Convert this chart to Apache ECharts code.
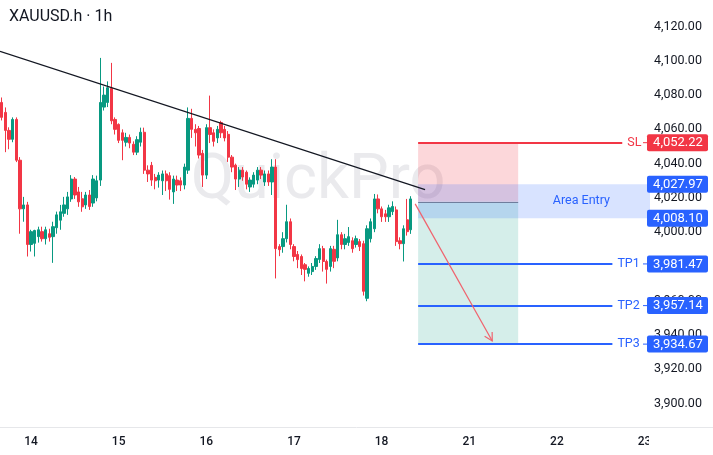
<!DOCTYPE html>
<html><head><meta charset="utf-8">
<script src="https://cdn.jsdelivr.net/npm/echarts@6/dist/echarts.min.js"></script>
<style>html,body{margin:0;padding:0;background:#fff}#c{width:713px;height:455px}</style>
</head><body><div id="c"></div>
<script>
// ---- data ----
const dayLabels = ['13','14','15','16','17','18','21','22','23'];
const firstHour = 16;          // first slot is day 13, 16:00
const totalSlots = 178;        // hourly slots incl. empty future area

const opens  = [4075.7,4069.9,4059.4,4054.2,4065.8,4042.0,4013.6,4015.9,3992.8,3993.5,3997.4,4000.3,3996.2,3999.1,3997.4,4002.6,4007.0,4011.0,4013.6,4019.4,4031.0,4023.5,4019.5,4015.9,4021.7,4017.0,4020.0,4030.4,4073.0,4075.7,4084.0,4065.8,4062.9,4058.0,4052.5,4055.3,4051.3,4046.7,4052.5,4058.3,4036.2,4039.0,4032.0,4030.4,4030.0,4034.0,4033.0,4023.5,4030.4,4030.0,4027.5,4036.2,4066.4,4060.0,4060.5,4046.0,4033.3,4061.0,4058.0,4055.0,4064.0,4060.0,4057.1,4043.8,4039.1,4031.0,4036.2,4035.0,4026.4,4028.0,4030.4,4036.2,4029.3,4034.0,4029.3,4038.0,3991.6,3991.6,3996.2,4006.1,3991.6,3987.0,3985.8,3981.0,3976.0,3977.0,3980.0,3984.1,3990.4,3982.9,3980.0,3990.0,3985.0,3998.5,3992.8,3994.0,3995.0,3992.8,3994.5,3993.3,3961.4,3996.2,4002.0,4019.4,4013.6,4010.7,4009.0,4012.0,4013.0,3995.0,3993.3,4007.2,4001.4];
const closes = [4067.0,4059.4,4054.2,4065.8,4042.0,4013.6,4015.9,3992.8,4000.3,4001.0,4001.4,3996.2,4001.4,3997.0,4003.2,4010.1,4011.9,4015.9,4020.6,4031.0,4021.7,4017.7,4014.8,4021.7,4015.0,4031.0,4030.0,4075.7,4080.0,4084.3,4065.0,4060.0,4053.6,4053.6,4055.3,4052.0,4046.7,4054.0,4058.3,4036.2,4034.0,4030.4,4030.0,4033.3,4034.0,4030.0,4025.0,4031.0,4027.5,4027.5,4038.0,4066.4,4060.0,4058.0,4045.0,4033.3,4061.0,4057.0,4053.0,4060.0,4058.0,4055.0,4043.8,4038.0,4031.0,4036.2,4032.2,4028.0,4030.4,4033.3,4036.2,4033.3,4034.0,4029.3,4038.0,3990.4,3989.8,3996.2,4006.1,3992.8,3985.8,3984.0,3978.8,3978.3,3978.8,3980.0,3984.6,3990.4,3982.9,3978.3,3990.4,3983.0,3998.5,3992.8,3996.2,3997.4,3990.4,3996.2,3991.6,3965.5,4002.0,4006.1,4019.4,4013.6,4009.0,4009.0,4014.2,4015.0,3994.5,3993.3,4002.0,4000.3,4019.4];
const lows   = [4065.2,4046.7,4048.4,4052.5,4040.9,3999.1,4006.1,3985.8,3988.7,3985.8,3993.9,3994.5,3992.8,3994.5,3982.1,3999.1,4001.4,4009.0,4010.1,4017.7,4019.4,4014.8,4011.9,4013.6,4013.0,4014.8,4018.0,4027.0,4071.0,4073.0,4063.0,4057.0,4052.0,4042.0,4050.0,4049.0,4045.0,4045.0,4050.0,4034.0,4029.3,4027.0,4025.0,4026.0,4021.7,4024.0,4019.0,4016.5,4024.0,4024.0,4025.0,4034.0,4055.0,4050.0,4043.0,4026.4,4031.0,4052.0,4050.0,4052.0,4055.0,4053.0,4041.0,4035.0,4024.6,4026.4,4030.0,4025.0,4023.5,4026.0,4028.0,4031.0,4027.0,4027.0,4021.7,3973.0,3986.0,3988.0,3994.0,3990.0,3983.0,3979.0,3975.0,3971.3,3974.0,3975.0,3978.0,3982.0,3977.0,3970.0,3977.0,3979.0,3983.0,3990.0,3990.0,3992.0,3988.0,3991.0,3989.0,3963.0,3959.7,3994.0,4000.0,4011.0,4006.0,4006.0,4006.0,4010.0,3992.0,3990.0,3982.9,3998.0,3999.0];
const highs  = [4078.6,4072.8,4061.2,4067.0,4067.0,4043.8,4020.6,4017.7,4001.4,4001.4,4003.2,4003.2,4003.2,4002.0,4006.1,4012.0,4015.9,4020.6,4023.5,4033.3,4032.2,4026.4,4023.5,4023.5,4024.6,4033.3,4033.0,4101.7,4085.0,4088.0,4098.8,4067.0,4063.5,4060.0,4058.0,4057.0,4053.0,4056.0,4061.0,4061.0,4039.0,4041.0,4034.0,4035.0,4036.0,4036.0,4035.0,4033.0,4033.0,4032.0,4040.0,4072.8,4072.0,4063.0,4062.0,4048.0,4063.0,4079.7,4060.0,4062.0,4065.0,4062.0,4059.0,4045.0,4040.0,4038.0,4038.0,4036.0,4032.0,4035.0,4038.0,4038.0,4036.0,4036.0,4042.6,4042.6,3993.0,4000.0,4016.0,4008.0,3993.0,3989.0,3987.0,3982.0,3980.0,3982.0,3986.0,3993.0,3992.0,3984.0,3992.0,3992.0,4007.2,4000.0,3999.0,4003.0,3997.0,3998.0,3996.0,3995.0,4004.0,4008.0,4022.3,4022.0,4015.0,4013.0,4016.0,4018.0,4015.0,3997.0,4004.0,4019.4,4021.0];

const yTicks = [3900,3920,3940,3960,3980,4000,4020,4040,4060,4080,4100,4120];
const yMin = 3886.3, yMax = 4135.5;

const levelNames  = ['SL','','','TP1','TP2','TP3'];
const levelValues = [4052.22,4027.97,4008.10,3981.47,3957.14,3934.67];
const levelColors = ['#f23645','#2962ff','#2962ff','#2962ff','#2962ff','#2962ff'];
const entryValue = 4017.7;
const trendX = [-0.5,115.9], trendY = [4105.5,4024.8];
const arrowX = [113.2,134.3], arrowY = [4016.5,3936.5];
const zoneX = [114,141.4];
const lineEndX = [169.9,null,null,167.2,167.2,167.2];
const bandEndX = 177.5;
const entryTextX = 158.7;

// ---- categories (hour slots) ----
const cats = [];
{ let d = 0, h = firstHour;
  for (let i = 0; i < totalSlots; i++) {
    cats.push(dayLabels[d] + ' ' + String(h).padStart(2,'0') + ':00');
    h++; if (h === 24) { h = 0; d++; }
  } }
const fmt = v => v.toLocaleString('en-US',{minimumFractionDigits:2,maximumFractionDigits:2});

const chart = echarts.init(document.getElementById('c'));
const markLines = [];
levelValues.forEach((v,i)=>{
  if (lineEndX[i] == null) return;
  markLines.push([{coord:[zoneX[0],v],lineStyle:{color:levelColors[i],width:2,type:'solid'},
    label:{show:true,position:'end',formatter:levelNames[i],color:levelColors[i],fontSize:12.5,fontFamily:'Roboto',distance:5}},
    {coord:[lineEndX[i],v]}]);
});
markLines.push([{coord:[zoneX[0],entryValue],lineStyle:{color:'#6f7d9c',width:1,type:'solid'},label:{show:false}},{coord:[zoneX[1],entryValue]}]);
markLines.push([{coord:[arrowX[0],arrowY[0]],lineStyle:{color:'#f0636e',width:1.2,type:'solid'},label:{show:false}},{coord:[arrowX[1],arrowY[1]]}]);

const option = {
  animation:false,
  backgroundColor:'#ffffff',
  grid:{left:0,top:0,width:650,height:427,containLabel:false},
  xAxis:[{type:'category',data:cats,boundaryGap:true,
    axisLine:{show:false},axisTick:{show:false},splitLine:{show:false},
    axisLabel:{interval:(i,v)=>v.endsWith(' 00:00'),formatter:v=>v.split(' ')[0],color:'#131722',fontSize:12,fontFamily:'Roboto',fontWeight:500,margin:9}},
    {type:'value',min:-0.5,max:totalSlots-0.5,show:false}],
  yAxis:[{type:'value',position:'right',min:yMin,max:yMax,scale:true,
    axisLine:{show:false},axisTick:{show:false},splitLine:{show:false},
    axisLabel:{customValues:yTicks,formatter:fmt,color:'#131722',fontSize:12.5,fontFamily:'Roboto',margin:4}}],
  series:[
    {type:'candlestick',xAxisIndex:0,yAxisIndex:0,barWidth:2.8,z:5,
      data:opens.map((o,i)=>[o,closes[i],lows[i],highs[i]]),
      itemStyle:{color:'#089981',color0:'#f23645',borderColor:'#089981',borderColor0:'#f23645',borderWidth:1}},
    {type:'line',xAxisIndex:1,yAxisIndex:0,z:6,symbol:'none',silent:true,
      data:[[trendX[0],trendY[0]],[trendX[1],trendY[1]]],
      lineStyle:{color:'#131722',width:1.2},
      markArea:{silent:true,data:[
        [{coord:[zoneX[0],levelValues[0]],itemStyle:{color:'rgba(242,54,69,0.2)'}},{coord:[zoneX[1],entryValue]}],
        [{coord:[zoneX[0],entryValue],itemStyle:{color:'rgba(8,153,129,0.17)'}},{coord:[zoneX[1],levelValues[5]]}],
        [{coord:[zoneX[0],levelValues[1]],itemStyle:{color:'rgba(41,98,255,0.18)'}},{coord:[bandEndX,levelValues[2]]}]
      ]},
      markLine:{silent:true,symbol:['none','none'],data:markLines}
    }
  ]
};
chart.setOption(option);

const px = (x,v)=>chart.convertToPixel({seriesIndex:1},[x,v]);
const g = [];
g.push({type:'text',left:9,top:9,z:100,style:{text:'XAUUSD.h · 1h',fontSize:16,fontFamily:'Roboto',fill:'#131722'}});
g.push({type:'text',x:318,y:182,z:-10,silent:true,style:{text:'QuickPro',fontSize:63,fontFamily:'Roboto',fill:'#eaeaed',align:'center',verticalAlign:'middle'}});
g.push({type:'line',z:50,shape:{x1:0,y1:427.5,x2:713,y2:427.5},style:{stroke:'#e6e7ea',lineWidth:1}});
g.push({type:'rect',z:60,shape:{x:649,y:429,width:64,height:26},style:{fill:'#ffffff'}});
levelValues.forEach((v,i)=>{
  const p = px(0,v);
  if (levelNames[i]) g.push({type:'line',z:100,shape:{x1:643,y1:p[1],x2:648,y2:p[1]},style:{stroke:levelColors[i],lineWidth:1}});
  g.push({type:'rect',z:100,shape:{x:647,y:p[1]-8.5,width:61,height:17,r:2},style:{fill:levelColors[i]}});
  g.push({type:'text',z:101,x:678,y:p[1]+0.5,style:{text:fmt(v),fontSize:13,fontFamily:'Roboto',fill:'#ffffff',align:'center',verticalAlign:'middle'}});
});
const tp = px(entryTextX,(levelValues[1]+levelValues[2])/2);
g.push({type:'text',z:100,x:tp[0],y:tp[1],style:{text:'Area Entry',fontSize:12.5,fontFamily:'Roboto',fill:'#2962ff',align:'center',verticalAlign:'middle'}});
// arrow head
const a0 = px(arrowX[0],arrowY[0]), a1 = px(arrowX[1],arrowY[1]);
const ang = Math.atan2(a1[1]-a0[1],a1[0]-a0[0]), L = 9;
const w1 = [a1[0]-L*Math.cos(ang-0.5),a1[1]-L*Math.sin(ang-0.5)];
const w2 = [a1[0]-L*Math.cos(ang+0.5),a1[1]-L*Math.sin(ang+0.5)];
g.push({type:'polyline',z:100,shape:{points:[w1,a1,w2]},style:{stroke:'#f0636e',lineWidth:1.2,fill:null}});
chart.setOption({graphic:g});
</script></body></html>
